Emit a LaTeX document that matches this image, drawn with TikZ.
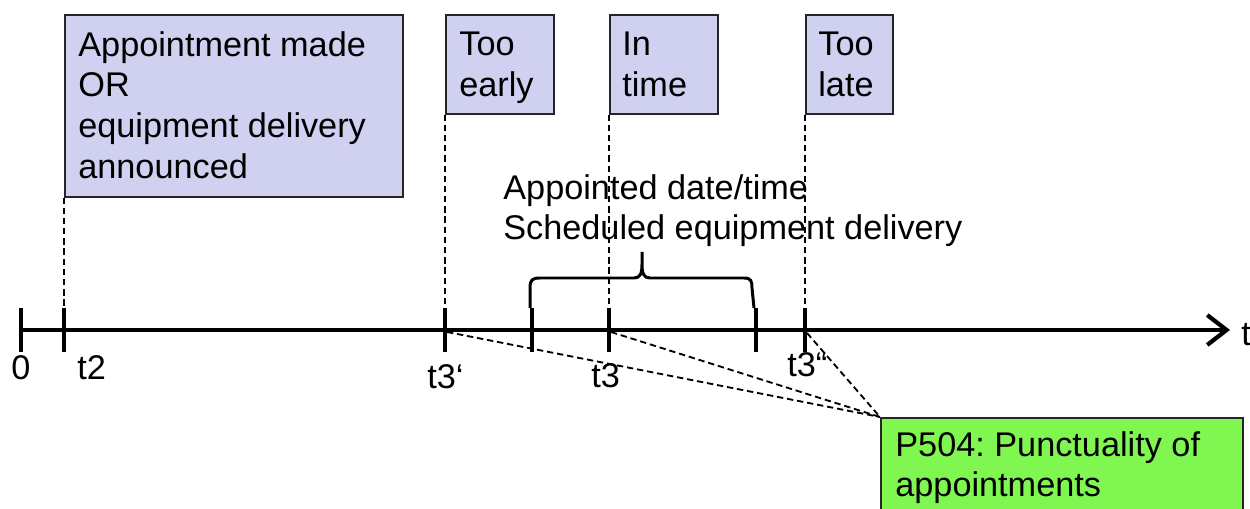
\documentclass[tikz,border=0pt]{standalone}
\usepackage{fontspec}
\setmainfont{Liberation Sans}
\usetikzlibrary{arrows.meta}
\definecolor{lav}{RGB}{208,208,240}
\definecolor{grn}{RGB}{128,247,80}
\begin{document}
\frenchspacing
\begin{tikzpicture}[x=0.02cm,y=-0.02cm,
  txt/.style={inner sep=0pt,font=\fontsize{19.5}{23.2}\selectfont,align=left},
  lbox/.style={draw=black!85,line width=0.9pt,fill=lav,inner sep=0pt,anchor=north west},
  gbox/.style={draw=black!85,line width=0.9pt,fill=grn,inner sep=0pt,anchor=north west},
  guide/.style={line width=1.05pt,dash pattern=on 3.6pt off 2.2pt},
  axisline/.style={line width=2.4pt},
  tickline/.style={line width=2.6pt},
  bracepath/.style={line width=1.7pt,line join=round}
]
\useasboundingbox (0,0) rectangle (1250,509);
\clip (0,0) rectangle (1250,509);

% axis points
\coordinate (t0) at (21,330);
\coordinate (t2) at (64,330);
\coordinate (t3p) at (445,330);
\coordinate (bl) at (532,330);
\coordinate (t3) at (609,330);
\coordinate (br) at (756,330);
\coordinate (t3pp) at (805,330);
\coordinate (tend) at (1230,330);

% boxes
\node[lbox,minimum width=6.76cm,minimum height=3.64cm] (b1) at (64,14) {};
\node[lbox,minimum width=2.16cm,minimum height=1.98cm] (b2) at (445,14) {};
\node[lbox,minimum width=2.16cm,minimum height=1.98cm] (b3) at (609,14) {};
\node[lbox,minimum width=1.74cm,minimum height=1.98cm] (b4) at (805,14) {};
\node[gbox,minimum width=7.24cm,minimum height=2.2cm] (g) at (880,417) {};

\node[txt,anchor=north west] (b1t) at (78,31) {Appointment made\\OR\\equipment delivery\\announced};
\node[txt,anchor=north west] (b2t) at (459,32) {Too\\early};
\node[txt,anchor=north west] (b3t) at (622,32) {In\\time};
\node[txt,anchor=north west] (b4t) at (818,32) {Too\\late};
\node[txt,anchor=north west] (gt) at (895,431) {P504: Punctuality of\\appointments};

% vertical guides
\draw[guide] (b1.south west) -- (t2);
\draw[guide] (b2.south west) -- (t3p);
\draw[guide] (b3.south west) -- (t3);
\draw[guide] (b4.south west) -- (t3pp);

% slanted guides to the green box
\draw[guide] (t3p) ++(2,2) -- (g.north west);
\draw[guide] (t3) ++(2,2) -- (g.north west);
\draw[guide] (t3pp) ++(2,3) -- (g.north west);

% text above the brace
\node[txt,anchor=north west] (appt) at (503,174) {Appointed date/time\\Scheduled equipment delivery};

% axis
\draw[axisline,-{Straight Barb[length=11pt,width=17pt,line width=2.4pt]}] (t0) -- (tend);
\foreach \p in {t0,t2,t3p,bl,t3,br,t3pp}{
  \draw[tickline] (\p) ++(0,-22) -- ++(0,44);
}

% brace
\draw[bracepath] (530,308) -- (530,288) .. controls (530,280) and (532,278) .. (540,278)
  -- (634,278) .. controls (640,278) and (642,274) .. (642,264) -- (642,252)
  (642,264) .. controls (642,274) and (644,278) .. (650,278)
  -- (744,278) .. controls (751,278) and (752,281) .. (752,288) -- (754,308);

% axis labels
\node[txt,anchor=base] (l0) at (21,380) {0};
\node[txt,anchor=base west] (l2) at (77,380) {t2};
\node[txt,anchor=base west] (l3p) at (427,389) {t3‘};
\node[txt,anchor=base west] (l3) at (591,388) {t3};
\node[txt,anchor=base west] (l3pp) at (787,377) {t3“};
\node[txt,anchor=base west] (lt) at (1241,346) {t};
\end{tikzpicture}
\end{document}
